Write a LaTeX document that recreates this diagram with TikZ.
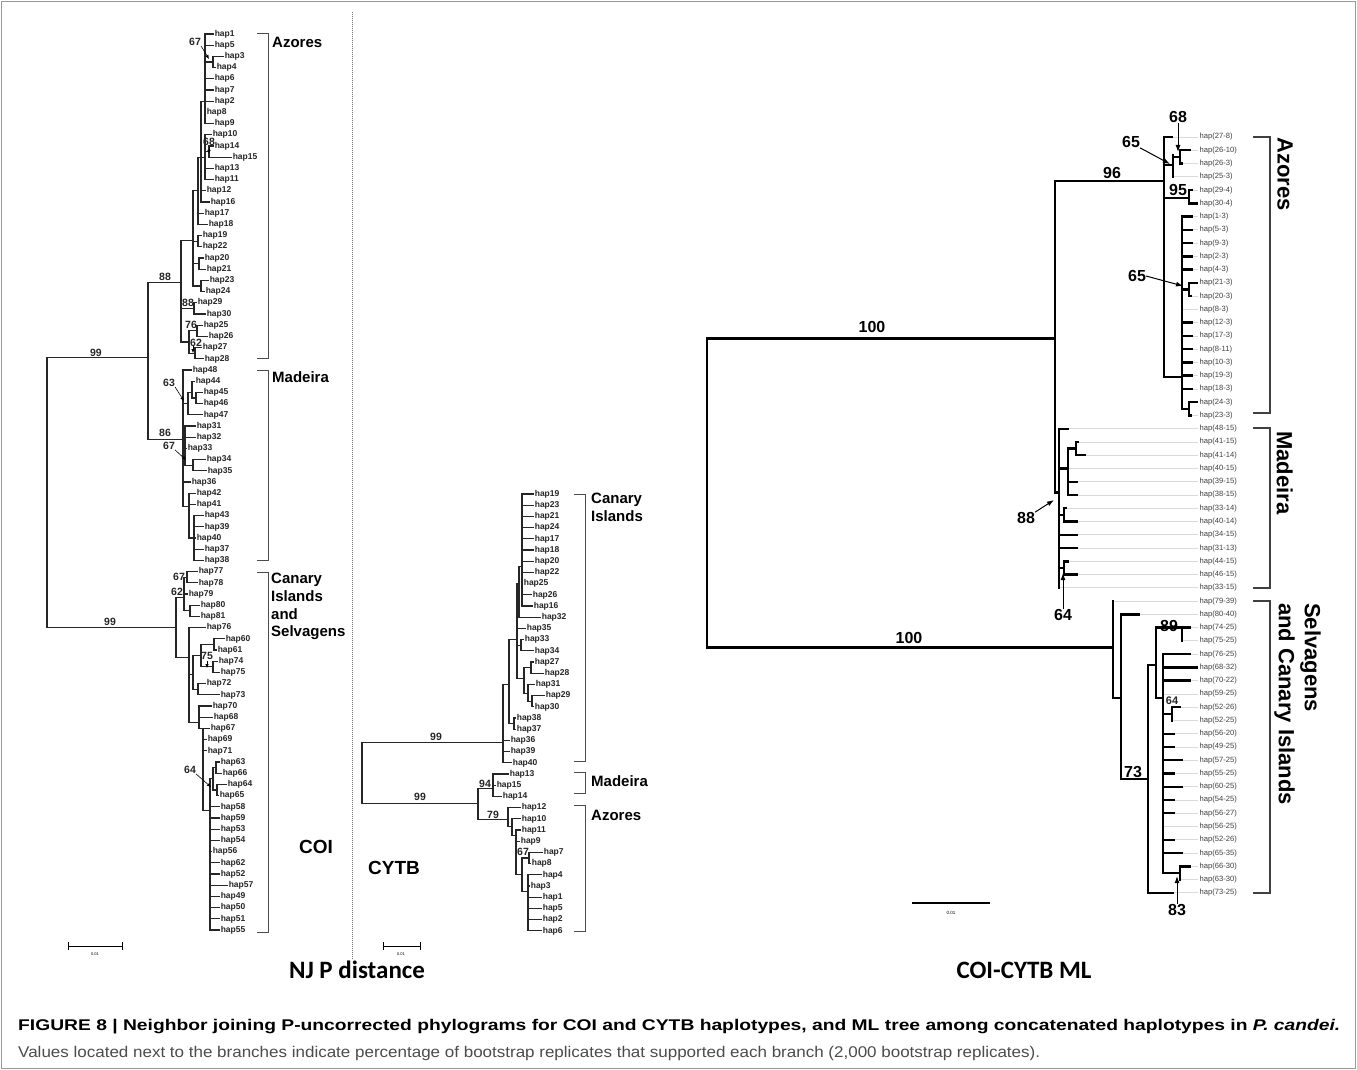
\documentclass[tikz,border=0pt]{standalone}
\usepackage{fontspec}
\setmainfont{Liberation Sans}
\newfontfamily\carl{Carlito}
\usepackage{graphicx}
\usetikzlibrary{arrows.meta}
\tikzset{
 br/.style={line width=1.1pt, black!85, line cap=rect},
 hl/.style={anchor=west, inner sep=0pt, inner xsep=1.6pt, font=\fontsize{8.5}{9}\selectfont\bfseries, text=black!85},
 bs/.style={inner sep=0pt, font=\fontsize{10.5}{11}\selectfont\bfseries, text=black!85},
 bsb/.style={inner sep=0pt, font=\fontsize{16}{17}\selectfont\bfseries},
 cl/.style={anchor=west, inner sep=0pt, font=\fontsize{15}{17.7}\selectfont\bfseries, align=left},
 rl/.style={anchor=north west, inner sep=0pt, rotate=-90, font=\fontsize{22}{26}\selectfont\bfseries, align=left},
 brk/.style={line width=1pt, black!70},
 brkm/.style={line width=1.3pt, black!75},
 arrs/.style={line width=0.6pt, -{Latex[length=4pt,width=3.5pt]}},
 arrm/.style={line width=1pt, -{Latex[length=7pt,width=5pt]}},
 mlb/.style={line width=2.4pt, line cap=rect},
 mlg/.style={line width=0.8pt, black!15},
 mll/.style={anchor=west, inner sep=0pt, inner xsep=1.5pt, font=\fontsize{7.6}{8}\selectfont, text=black!75},
 ttl/.style={inner sep=0pt, font=\carl\fontsize{25}{28}\selectfont\bfseries},
 gl/.style={inner sep=0pt, font=\fontsize{19}{21}\selectfont\bfseries},
 sb/.style={inner sep=0pt, font=\fontsize{4}{5}\selectfont},
}
% leaf with branch: name, parent x, end x, row, text
\newcommand\lfa[5]{\node[hl] (#1) at (#3,#4) {#5};\draw[br] (#2,#4) -- (#1.west);}
% leaf with no branch: name, x, row, text
\newcommand\lza[4]{\node[hl] (#1) at (#2,#3) {#4};}
% inner node: x, row1, row2, parent x, attach row
\newcommand\nda[5]{\draw[br] (#1,#2) -- (#1,#3);\draw[br] (#4,#5) -- (#1,#5);}
% ML leaves
\newcommand\mla[5]{\node[mll] (#1) at (1198,#4) {#5};\draw[mlg] (#3,#4) -- (#1.west);\draw[mlb] (#2,#4) -- (#3,#4);}
\newcommand\mza[4]{\node[mll] (#1) at (1198,#3) {#4};\draw[mlg] (#2,#3) -- (#1.west);}
\newcommand\mna[5]{\draw[mlb] (#1,#2) -- (#1,#3);\draw[mlb] (#4,#5) -- (#1,#5);}
\begin{document}
\begin{tikzpicture}[x=1pt,y=-1pt]
\useasboundingbox (0,0) rectangle (1357,1070);
\fill[white] (0,0) rectangle (1357,1070);
\draw[black!40, line width=1pt] (1.5,1.5) rectangle (1355.5,1068.5);
\draw[black!55, line width=0.9pt, dash pattern=on 1pt off 1pt] (352,12) -- (352,960);

% ================= COI tree =================
\begin{scope}[yshift=-34pt, y=-11.2pt]
\lfa{c1}{205}{213}{0}{hap1}
\lfa{c5}{205}{213}{1}{hap5}
\nda{213}{2}{3}{205}{2.5}
\lfa{c3}{213}{223}{2}{hap3}
\lfa{c4}{213}{215}{3}{hap4}
\lfa{c6}{205}{213}{4}{hap6}
\lfa{c7}{205}{213}{5}{hap7}
\lfa{c2}{205}{213}{6}{hap2}
\lza{c8}{205}{7}{hap8}
\lfa{c9}{205}{213}{8}{hap9}
\nda{205}{0}{8}{201}{6}
\nda{209}{10}{11}{205}{10.5}
\lfa{c10}{205}{211}{9}{hap10}
\lfa{c14}{209}{213}{10}{hap14}
\lfa{c15}{209}{231}{11}{hap15}
\lfa{c13}{205}{213}{12}{hap13}
\lfa{c11}{205}{213}{13}{hap11}
\nda{205}{9}{13}{201}{11}
\lfa{c12}{201}{205}{14}{hap12}
\lfa{c16}{201}{209}{15}{hap16}
\nda{201}{6}{15}{198}{11}
\lfa{c17}{198}{203}{16}{hap17}
\lfa{c18}{198}{207}{17}{hap18}
\nda{198}{11}{17}{193}{14}
\nda{198}{18}{19}{193}{18.5}
\lfa{c19}{198}{201}{18}{hap19}
\lfa{c22}{198}{201}{19}{hap22}
\nda{199}{20}{21}{193}{20.5}
\lfa{c20}{199}{203}{20}{hap20}
\lfa{c21}{199}{205}{21}{hap21}
\nda{201}{22}{23}{193}{22.5}
\lfa{c23}{201}{208}{22}{hap23}
\lfa{c24}{201}{204}{23}{hap24}
\nda{193}{14}{22.5}{181}{18.4}
\nda{194}{24}{25}{181}{24.5}
\lfa{c29}{194}{196}{24}{hap29}
\lfa{c30}{194}{205}{25}{hap30}
\nda{197}{26}{27}{189}{26.5}
\lfa{c25}{197}{202}{26}{hap25}
\lfa{c26}{197}{207}{27}{hap26}
\nda{195}{28}{29}{189}{28.5}
\lfa{c27}{195}{201}{28}{hap27}
\lfa{c28}{195}{203}{29}{hap28}
\nda{189}{26.5}{28.5}{181}{27.5}
\nda{181}{18.4}{27.5}{148}{22.2}
% Madeira
\lfa{c48}{183}{191}{30}{hap48}
\nda{196}{32}{33}{192}{32.5}
\lfa{c44}{192}{194}{31}{hap44}
\lfa{c45}{196}{202}{32}{hap45}
\lfa{c46}{196}{202}{33}{hap46}
\nda{192}{31}{32.5}{188}{32}
\lfa{c47}{188}{202}{34}{hap47}
\nda{188}{32}{34}{183}{33}
\lfa{c31}{185}{195}{35}{hap31}
\lfa{c32}{185}{195}{36}{hap32}
\lfa{c33}{185}{186}{37}{hap33}
\nda{193}{38}{39}{185}{38.5}
\lfa{c34}{193}{205}{38}{hap34}
\lfa{c35}{193}{206}{39}{hap35}
\nda{185}{35}{38.5}{183}{37}
\lfa{c36}{183}{190}{40}{hap36}
\lfa{c42}{189}{195}{41}{hap42}
\lfa{c41}{189}{195}{42}{hap41}
\lfa{c43}{194}{203}{43}{hap43}
\lfa{c39}{194}{203}{44}{hap39}
\lfa{c40}{194}{195}{45}{hap40}
\lfa{c37}{194}{203}{46}{hap37}
\lfa{c38}{194}{203}{47}{hap38}
\nda{194}{43}{47}{189}{45}
\nda{189}{41}{45}{183}{42.2}
\nda{183}{30}{42.2}{148}{36.2}
\nda{148}{22.2}{36.2}{47}{28.9}
% Canary
\lfa{c77}{187}{197}{48}{hap77}
\lfa{c78}{187}{197}{49}{hap78}
\nda{187}{48}{49}{184}{48.5}
\lfa{c79}{184}{187}{50}{hap79}
\lfa{c80}{190}{199}{51}{hap80}
\lfa{c81}{190}{199}{52}{hap81}
\nda{190}{51}{52}{184}{51.5}
\nda{184}{48.5}{51.5}{176}{50.3}
\lfa{c76}{189}{205}{53}{hap76}
\lfa{c60}{214}{224}{54}{hap60}
\lfa{c61}{214}{216}{55}{hap61}
\nda{214}{54}{55}{201}{54.5}
\lfa{c74}{213}{217}{56}{hap74}
\lfa{c75}{213}{219}{57}{hap75}
\nda{213}{56}{57}{201}{56.5}
\nda{201}{54.5}{56.5}{193}{55.5}
\lfa{c72}{198}{205}{58}{hap72}
\lfa{c73}{198}{219}{59}{hap73}
\nda{198}{58}{59}{193}{58.5}
\nda{193}{55.5}{58.5}{189}{57.2}
\lfa{c70}{199}{211}{60}{hap70}
\lfa{c68}{199}{212}{61}{hap68}
\lfa{c67}{203}{209}{62}{hap67}
\lfa{c69}{203}{206}{63}{hap69}
\lfa{c71}{203}{206}{64}{hap71}
\lfa{c63}{216}{219}{65}{hap63}
\lfa{c66}{216}{221}{66}{hap66}
\nda{216}{65}{66}{213}{65.5}
\lfa{c64}{217}{226}{67}{hap64}
\lfa{c65}{217}{218}{68}{hap65}
\nda{217}{67}{68}{213}{67.5}
\nda{213}{65.5}{67.5}{210}{66.5}
\lfa{c58}{210}{219}{69}{hap58}
\lfa{c59}{210}{219}{70}{hap59}
\lfa{c53}{210}{219}{71}{hap53}
\lfa{c54}{210}{219}{72}{hap54}
\lfa{c56}{210}{211}{73}{hap56}
\lfa{c62}{210}{219}{74}{hap62}
\lfa{c52}{210}{219}{75}{hap52}
\lfa{c57}{210}{227}{76}{hap57}
\lfa{c49}{210}{219}{77}{hap49}
\lfa{c50}{210}{219}{78}{hap50}
\lfa{c51}{210}{219}{79}{hap51}
\lfa{c55}{210}{219}{80}{hap55}
\nda{210}{66.5}{80}{203}{69.3}
\nda{203}{62}{69.3}{199}{62}
\nda{199}{60}{62}{189}{61.5}
\nda{189}{53}{61.5}{176}{55.7}
\nda{176}{50.3}{55.7}{47}{53}
\draw[br] (47,28.9) -- (47,53);
\end{scope}

% COI brackets and labels
\draw[brk] (257,34) -- (268,34) -- (268,358) -- (257,358);
\draw[brk] (257,370) -- (268,370) -- (268,560) -- (257,560);
\draw[brk] (257,572) -- (268,572) -- (268,932) -- (257,932);
\node[cl] (gaz) at (272,42) {Azores};
\node[cl] (gma) at (272,377) {Madeira};
\node[cl, anchor=north west] (gca) at (271,573) {Canary\\Islands\\and\\Selvagens};
\node[gl] (coi) at (316,847) {COI};

% COI bootstrap values
\node[bs] (b1) at (195,42) {67};
\draw[arrs] (b1.south east) -- (209,59);
\node[bs] (b2) at (209,142) {68};
\draw[arrs] (209,147) -- (209,154);
\node[bs] (b3) at (165,277) {88};
\node[bs] (b4) at (96,353) {99};
\node[bs] (b5) at (188,303) {88};
\node[bs] (b6) at (191,325) {76};
\node[bs] (b7) at (196,343) {62};
\draw[arrs] (193,346) -- (193,353);
\node[bs] (b8) at (169,383) {63};
\draw[arrs] (b8.south east) -- (184,401);
\node[bs] (b9) at (165,433) {86};
\node[bs] (b10) at (169,446) {67};
\draw[arrs] (b10.south east) -- (186,460);
\node[bs] (b11) at (110,622) {99};
\node[bs] (b12) at (179,577) {67};
\node[bs] (b13) at (177,592) {62};
\node[bs] (b14) at (207,656) {75};
\draw[arrs] (207,661) -- (207,668);
\node[bs] (b15) at (190,770) {64};
\draw[arrs] (b15.south east) -- (211,787);

% COI scale bar
\draw[line width=0.8pt] (68,946) -- (122,946);
\draw[line width=0.8pt] (68,942) -- (68,950);
\draw[line width=0.8pt] (122,942) -- (122,950);
\node[sb] (s1) at (95,954) {0.01};

% ================= CYTB tree =================
\begin{scope}[yshift=-494pt, y=-11.2pt]
\lfa{y19}{522}{533}{0}{hap19}
\lfa{y23}{522}{533}{1}{hap23}
\lfa{y21}{522}{533}{2}{hap21}
\lfa{y24}{522}{533}{3}{hap24}
\lfa{y17}{522}{533}{4}{hap17}
\lfa{y18}{522}{533}{5}{hap18}
\lfa{y20}{522}{533}{6}{hap20}
\lfa{y22}{522}{533}{7}{hap22}
\lza{y25}{522}{8}{hap25}
\lfa{y26}{522}{531}{9}{hap26}
\lfa{y16}{522}{532}{10}{hap16}
\nda{522}{0}{10}{519}{6.5}
\lfa{y32}{519}{540}{11}{hap32}
\nda{519}{6.5}{11}{517}{8}
\lfa{y35}{517}{525}{12}{hap35}
\lfa{y33}{521}{523}{13}{hap33}
\lfa{y34}{521}{533}{14}{hap34}
\nda{521}{13}{14}{517}{13.5}
\lfa{y27}{531}{533}{15}{hap27}
\lfa{y28}{531}{543}{16}{hap28}
\nda{531}{15}{16}{524}{15.5}
\lfa{y31}{528}{534}{17}{hap31}
\lfa{y29}{532}{544}{18}{hap29}
\lfa{y30}{532}{533}{19}{hap30}
\nda{532}{18}{19}{528}{18.5}
\nda{528}{17}{18.5}{524}{17.8}
\nda{524}{15.5}{17.8}{517}{16.5}
\nda{517}{8}{16.5}{509}{13}
\lfa{y38}{514}{515}{20}{hap38}
\lfa{y37}{514}{515}{21}{hap37}
\nda{514}{20}{21}{509}{20.5}
\nda{509}{13}{20.5}{503}{17}
\lfa{y36}{503}{509}{22}{hap36}
\lfa{y39}{503}{509}{23}{hap39}
\lfa{y40}{503}{511}{24}{hap40}
\nda{503}{17}{24}{362}{22.2}
\lfa{y13}{493}{508}{25}{hap13}
\lfa{y15}{493}{495}{26}{hap15}
\lfa{y14}{493}{501}{27}{hap14}
\nda{493}{25}{27}{478}{26.3}
\lfa{y12}{508}{520}{28}{hap12}
\lfa{y10}{512}{520}{29}{hap10}
\lfa{y11}{516}{520}{30}{hap11}
\lfa{y9}{516}{519}{31}{hap9}
\lfa{y7}{529}{542}{32}{hap7}
\lfa{y8}{529}{530}{33}{hap8}
\nda{529}{32}{33}{522}{32.5}
\lfa{y4}{528}{541}{34}{hap4}
\lfa{y3}{528}{529}{35}{hap3}
\lfa{y1}{528}{541}{36}{hap1}
\lfa{y5}{528}{541}{37}{hap5}
\lfa{y2}{528}{541}{38}{hap2}
\lfa{y6}{528}{541}{39}{hap6}
\nda{528}{34}{39}{522}{35.5}
\nda{522}{32.5}{35.5}{516}{34}
\nda{516}{30}{34}{512}{30.5}
\nda{512}{29}{30.5}{508}{29.7}
\nda{508}{28}{29.7}{478}{29.1}
\nda{478}{26.3}{29.1}{362}{27.6}
\draw[br] (362,22.2) -- (362,27.6);
\end{scope}

\draw[brk] (574,494) -- (585,494) -- (585,761) -- (574,761);
\draw[brk] (574,772) -- (585,772) -- (585,793) -- (574,793);
\draw[brk] (574,805) -- (585,805) -- (585,931) -- (574,931);
\node[cl, anchor=north west] (ycan) at (591,493) {Canary\\Islands};
\node[cl] (ymad) at (591,781) {Madeira};
\node[cl] (yazo) at (591,815) {Azores};
\node[gl] (cytb) at (394,868) {CYTB};
\node[bs] (d1) at (436,737) {99};
\node[bs] (d2) at (420,797) {99};
\node[bs] (d3) at (485,784) {94};
\node[bs] (d4) at (493,815) {79};
\node[bs] (d5) at (523,852) {67};
\draw[line width=0.8pt] (383,946) -- (420,946);
\draw[line width=0.8pt] (383,942) -- (383,950);
\draw[line width=0.8pt] (420,942) -- (420,950);
\node[sb] (s2) at (401,954) {0.01};

% ================= ML tree =================
\begin{scope}[yshift=-137pt, y=-13.26pt]
\mla{m01}{1164}{1172}{0}{hap(27-8)}
\mla{m02}{1180}{1190}{1}{hap(26-10)}
\mla{m03}{1180}{1182}{2}{hap(26-3)}
\mza{m04}{1173}{3}{hap(25-3)}
\mna{1180}{1}{2}{1173}{1.5}
\mna{1173}{1.4}{3}{1164}{2.1}
\mla{m05}{1189}{1192}{4}{hap(29-4)}
\mla{m06}{1189}{1197}{5}{hap(30-4)}
\mna{1189}{4}{5}{1164}{4.6}
\mla{m07}{1182}{1192}{6}{hap(1-3)}
\mla{m08}{1182}{1192}{7}{hap(5-3)}
\mla{m09}{1182}{1192}{8}{hap(9-3)}
\mla{m10}{1182}{1192}{9}{hap(2-3)}
\mla{m11}{1182}{1192}{10}{hap(4-3)}
\mla{m12}{1189}{1197}{11}{hap(21-3)}
\mla{m13}{1189}{1191}{12}{hap(20-3)}
\mna{1189}{11}{12}{1182}{11.5}
\mza{m14}{1182}{13}{hap(8-3)}
\mla{m15}{1182}{1192}{14}{hap(12-3)}
\mla{m16}{1182}{1192}{15}{hap(17-3)}
\mla{m17}{1182}{1192}{16}{hap(8-11)}
\mla{m18}{1182}{1192}{17}{hap(10-3)}
\mla{m19}{1182}{1192}{18}{hap(19-3)}
\mla{m20}{1182}{1192}{19}{hap(18-3)}
\mla{m21}{1189}{1197}{20}{hap(24-3)}
\mla{m22}{1189}{1191}{21}{hap(23-3)}
\mna{1189}{20}{21}{1182}{20.5}
\mna{1182}{6}{20.5}{1164}{18.1}
\mna{1164}{0}{18.1}{1055}{3.3}
% Madeira
\mla{m23}{1059}{1068}{22}{hap(48-15)}
\mla{m24}{1076}{1078}{23}{hap(41-15)}
\mla{m25}{1076}{1085}{24}{hap(41-14)}
\mna{1076}{23}{24}{1068}{23.5}
\mza{m26}{1068}{25}{hap(40-15)}
\mla{m27}{1068}{1077}{26}{hap(39-15)}
\mla{m28}{1068}{1077}{27}{hap(38-15)}
\mna{1068}{23.5}{27}{1059}{25}
\mla{m29}{1064}{1066}{28}{hap(33-14)}
\mla{m30}{1064}{1077}{29}{hap(40-14)}
\mna{1064}{28}{29}{1059}{28.5}
\mla{m31}{1059}{1077}{30}{hap(34-15)}
\mla{m32}{1059}{1077}{31}{hap(31-13)}
\mla{m33}{1064}{1068}{32}{hap(44-15)}
\mla{m34}{1064}{1077}{33}{hap(46-15)}
\mna{1064}{32}{33}{1059}{32.5}
\mza{m35}{1059}{34}{hap(33-15)}
\mna{1059}{22}{34}{1055}{26.8}
\mna{1055}{3.3}{26.8}{707}{15.2}
% Selvagens and Canary
\mza{m36}{1113}{35}{hap(79-39)}
\mla{m37}{1121}{1139}{36}{hap(80-40)}
\mla{m38}{1182}{1190}{37}{hap(74-25)}
\mza{m39}{1182}{38}{hap(75-25)}
\mna{1182}{37}{38}{1156}{37}
\mla{m40}{1163}{1190}{39}{hap(76-25)}
\mla{m41}{1163}{1197}{40}{hap(68-32)}
\mla{m42}{1163}{1190}{41}{hap(70-22)}
\mza{m43}{1163}{42}{hap(59-25)}
\mla{m44}{1172}{1180}{43}{hap(52-26)}
\mza{m45}{1172}{44}{hap(52-25)}
\mna{1172}{43}{44}{1163}{43.5}
\mla{m46}{1163}{1174}{45}{hap(56-20)}
\mla{m47}{1163}{1174}{46}{hap(49-25)}
\mla{m48}{1163}{1182}{47}{hap(57-25)}
\mla{m49}{1163}{1174}{48}{hap(55-25)}
\mla{m50}{1163}{1182}{49}{hap(60-25)}
\mla{m51}{1163}{1174}{50}{hap(54-25)}
\mla{m52}{1163}{1174}{51}{hap(56-27)}
\mza{m53}{1163}{52}{hap(56-25)}
\mla{m54}{1163}{1174}{53}{hap(52-26)}
\mla{m55}{1163}{1182}{54}{hap(65-35)}
\mla{m56}{1180}{1190}{55}{hap(66-30)}
\mza{m57}{1180}{56}{hap(63-30)}
\mna{1180}{55}{56}{1163}{55.5}
\mna{1163}{39}{55.5}{1156}{42.3}
\mna{1156}{37}{42.3}{1148}{39.8}
\mla{m58}{1148}{1173}{57}{hap(73-25)}
\mna{1148}{39.8}{57}{1121}{48.4}
\mna{1121}{36}{48.4}{1113}{42.3}
\mna{1113}{35}{42.3}{707}{38.5}
\draw[mlb] (707,15.2) -- (707,38.5);
\end{scope}

\draw[brkm] (1253,137) -- (1270,137) -- (1270,413) -- (1253,413);
\draw[brkm] (1253,428) -- (1270,428) -- (1270,588) -- (1253,588);
\draw[brkm] (1253,601) -- (1270,601) -- (1270,893) -- (1253,893);
\node[rl] (raz) at (1293,137) {Azores};
\node[rl] (rma) at (1293,431) {Madeira};
\node[rl] (rca) at (1321,603) {Selvagens\\and Canary Islands};

\node[bsb] (e1) at (872,327) {100};
\node[bsb] (e2) at (909,638) {100};
\node[bsb] (e3) at (1112,173) {96};
\node[bsb] (e4) at (1178,117) {68};
\draw[arrm] (e4.south) -- (1178,152);
\node[bsb] (e5) at (1131,142) {65};
\draw[arrm] (e5.south east) -- (1170,164);
\node[bsb] (e6) at (1178,190) {95};
\node[bsb] (e7) at (1137,276) {65};
\draw[arrm] (e7.east) -- (1183,286);
\node[bsb] (e8) at (1026,518) {88};
\draw[arrm] (e8.north east) -- (1054,500);
\node[bsb] (e9) at (1063,615) {64};
\draw[arrm] (e9.north) -- (1063,573);
\node[bsb] (e10) at (1169,626) {89};
\node[bs, font=\fontsize{11}{12}\selectfont\bfseries] (e11) at (1172,701) {64};
\node[bsb] (e12) at (1133,772) {73};
\node[bsb] (e13) at (1177,910) {83};
\draw[arrm] (e13.north) -- (1177,876);
\draw[line width=2pt] (912,903) -- (990,903);
\node[sb, font=\fontsize{4.5}{5}\selectfont] (s3) at (951,913) {0.01};

% titles
\node[ttl] (t1) at (357,970) {NJ P distance};
\node[ttl] (t2) at (1024,970) {COI-CYTB ML};

% caption
\node[anchor=west, inner sep=0pt] (cap1) at (18,1027) {\resizebox{1322pt}{\height}{\fontsize{15.5}{17}\selectfont\bfseries FIGURE 8 | Neighbor joining P-uncorrected phylograms for COI and CYTB haplotypes, and ML tree among concatenated haplotypes in \textit{P. candei.}}};
\node[anchor=west, inner sep=0pt, text=black!70] (cap2) at (18,1053) {\resizebox{1022pt}{\height}{\fontsize{15.5}{17}\selectfont Values located next to the branches indicate percentage of bootstrap replicates that supported each branch (2,000 bootstrap replicates).}};
\end{tikzpicture}
\end{document}
